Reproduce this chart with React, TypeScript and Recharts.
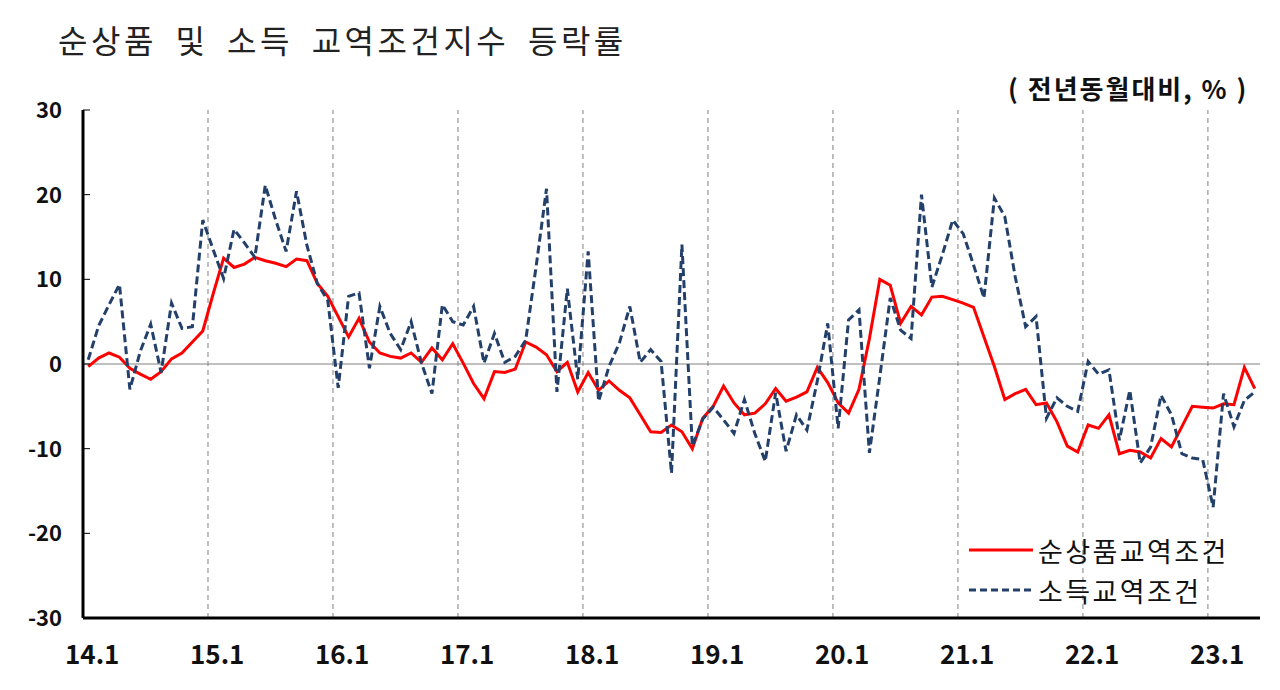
import { Line, LineChart, ReferenceLine, XAxis, YAxis } from "recharts";

// Year-over-year change (%), monthly from 14.1 to 23.5.
const NET_TOT = [
  -0.3, 0.7, 1.3, 0.8, -0.5, -1.2, -1.8, -0.9, 0.6, 1.3, 2.6, 3.9,
  8.3, 12.5, 11.4, 11.8, 12.6, 12.2, 11.9, 11.5, 12.4, 12.2, 9.5, 8.0,
  5.6, 3.2, 5.4, 2.6, 1.3, 0.9, 0.7, 1.3, 0.2, 1.9, 0.5, 2.4,
  0.1, -2.3, -4.1, -0.9, -1.0, -0.6, 2.6, 2.0, 1.1, -0.9, 0.2, -3.3,
  -1.0, -3.1, -2.0, -3.1, -4.0, -6.0, -8.0, -8.1, -7.2, -8.0, -10.0, -6.4,
  -5.0, -2.6, -4.6, -6.0, -5.8, -4.7, -2.9, -4.4, -3.9, -3.3, -0.4, -2.2,
  -4.6, -5.8, -3.0, 3.0, 10.0, 9.3, 4.8, 6.8, 5.8, 7.9, 8.0, 7.6,
  7.2, 6.7, 3.2, -0.3, -4.2, -3.5, -3.0, -4.8, -4.6, -6.8, -9.7, -10.4,
  -7.2, -7.6, -6.0, -10.6, -10.2, -10.4, -11.1, -8.8, -9.8, -7.4, -5.0, -5.1,
  -5.2, -4.7, -4.8, -0.4, -2.9,
];

const INCOME_TOT = [
  0.5, 4.5, 7.0, 9.4, -3.0, 1.5, 4.7, -1.0, 7.2, 4.2, 4.4, 17.0,
  13.5, 10.1, 15.9, 14.3, 12.6, 21.1, 17.0, 13.3, 20.4, 14.0, 9.5, 7.5,
  -2.8, 8.0, 8.4, -0.5, 6.8, 3.6, 1.7, 5.0, 0.1, -3.5, 7.0, 5.0,
  4.6, 6.8, 0.1, 3.6, 0.2, 0.9, 2.8, 11.5, 20.7, -3.3, 8.9, -1.8,
  13.3, -4.4, -0.3, 2.5, 6.8, 0.2, 1.7, 0.3, -12.9, 14.1, -9.7, -6.5,
  -5.1, -6.6, -8.2, -4.2, -8.2, -11.5, -3.4, -10.3, -6.0, -7.8, -2.0, 4.8,
  -7.6, 5.2, 6.4, -10.5, -1.5, 7.8, 4.0, 3.0, 20.0, 9.1, 12.9, 17.0,
  15.4, 11.7, 7.8, 19.6, 17.4, 10.3, 4.4, 5.6, -6.4, -4.0, -5.0, -5.6,
  0.3, -1.2, -0.7, -9.0, -3.1, -11.7, -9.8, -3.7, -6.0, -10.6, -11.1, -11.3,
  -16.9, -3.5, -7.4, -4.3, -3.3,
];

const YEAR_TICKS = ["14.1", "15.1", "16.1", "17.1", "18.1", "19.1", "20.1", "21.1", "22.1", "23.1"];
const Y_TICKS = [-30, -20, -10, 0, 10, 20, 30];

const SERIES = [
  { key: "net", label: "순상품교역조건", color: "#ff0000", dash: undefined },
  { key: "income", label: "소득교역조건", color: "#23406b", dash: "8 4" },
];

const data = NET_TOT.map((v, i) => ({
  i,
  month: `${14 + Math.floor(i / 12)}.${(i % 12) + 1}`,
  net: v,
  income: INCOME_TOT[i],
}));

const xDomain: [number, number] = [-0.5, data.length - 0.5];
const FONT = "'Noto Sans CJK KR', 'Noto Sans', sans-serif";

function YTick({ x, y, payload }: any) {
  return (
    <g>
      <line x1={x} x2={x + 7} y1={y} y2={y} stroke="#000" strokeWidth={1} />
      <text x={x - 21} y={y} dy="0.36em" textAnchor="end" fontSize={22} fontWeight={700} fill="#111" fontFamily={FONT}>
        {payload.value}
      </text>
    </g>
  );
}

function XTick({ x, y, payload }: any) {
  return (
    <text x={x + 4} y={y + 46} textAnchor="middle" fontSize={26} fontWeight={700} fill="#111" fontFamily={FONT}>
      {YEAR_TICKS[Math.round(payload.value / 12)]}
    </text>
  );
}

export default function App() {
  return (
    <div style={{ position: "absolute", left: 0, top: 0, width: 1280, height: 690, background: "#fff", fontFamily: FONT }}>
      <div style={{ position: "absolute", left: 58, top: 20, fontSize: 32, lineHeight: "38px", letterSpacing: 3.5, wordSpacing: 8, color: "#222", whiteSpace: "nowrap" }}>
        순상품 및 소득 교역조건지수 등락률
      </div>
      <div style={{ position: "absolute", left: 1008, top: 72, fontSize: 26, lineHeight: "32px", fontWeight: 700, letterSpacing: 2, color: "#111", whiteSpace: "nowrap" }}>
        ( 전년동월대비, % )
      </div>

      <LineChart width={1280} height={690} data={data} margin={{ top: 110, right: 20, bottom: 0, left: 0 }}>
        <XAxis
          dataKey="i"
          type="number"
          domain={xDomain}
          ticks={YEAR_TICKS.map((_, k) => k * 12)}
          tick={<XTick />}
          tickLine={false}
          tickSize={0}
          tickMargin={0}
          height={72}
          axisLine={{ stroke: "#000", strokeWidth: 3 }}
          allowDataOverflow
        />
        <XAxis xAxisId="top" orientation="top" type="number" domain={xDomain} tick={false} tickLine={false} height={0} axisLine={{ stroke: "#000", strokeWidth: 3 }} />
        <YAxis
          type="number"
          domain={[-30, 30]}
          ticks={Y_TICKS}
          tick={<YTick />}
          tickLine={false}
          tickSize={0}
          tickMargin={0}
          width={83}
          axisLine={{ stroke: "#000", strokeWidth: 3 }}
        />
        <YAxis yAxisId="right" orientation="right" domain={[-30, 30]} tick={false} tickLine={false} width={0} axisLine={{ stroke: "#000", strokeWidth: 3 }} />

        {/* Year boundaries: dashed vertical guides between Dec and Jan. */}
        {YEAR_TICKS.slice(1).map((_, k) => (
          <ReferenceLine key={k} x={(k + 1) * 12 - 0.5} stroke="#808080" strokeWidth={1} strokeDasharray="5 4" />
        ))}
        <ReferenceLine y={0} stroke="#808080" strokeWidth={1} />

        {SERIES.map((s) => (
          <Line
            key={s.key}
            dataKey={s.key}
            type="linear"
            stroke={s.color}
            strokeWidth={3}
            strokeDasharray={s.dash}
            dot={false}
            isAnimationActive={false}
          />
        ))}
      </LineChart>

      {/* Legend in the lower-right corner of the plot. */}
      <div style={{ position: "absolute", left: 968, top: 530, color: "#111", fontSize: 27, letterSpacing: 2.4 }}>
        {SERIES.map((s) => (
          <div key={s.key} style={{ display: "flex", alignItems: "center", height: 40, whiteSpace: "nowrap" }}>
            <svg width={66} height={10} style={{ marginRight: 4 }}>
              <line x1={1} x2={65} y1={5} y2={5} stroke={s.color} strokeWidth={3} strokeDasharray={s.dash ? "7 4" : undefined} />
            </svg>
            <span>{s.label}</span>
          </div>
        ))}
      </div>
    </div>
  );
}
